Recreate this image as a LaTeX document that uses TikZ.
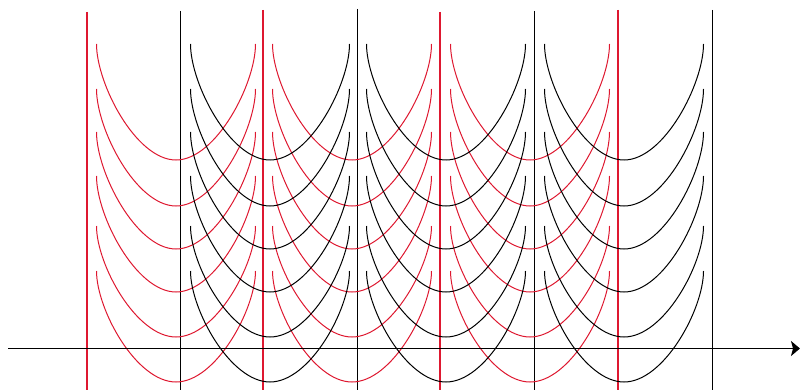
\documentclass[tikz,border=0pt]{standalone}
\usetikzlibrary{arrows.meta}
\definecolor{wred}{RGB}{222,24,48}
\tikzset{
  redline/.style={draw=wred, line width=1pt},
  blackline/.style={draw=black, line width=1pt},
  redpost/.style={draw=wred, line width=1.1pt},
  blackpost/.style={draw=black, line width=1pt},
  axisline/.style={draw=black, line width=1.6pt, -{Stealth[length=9pt,width=15pt,inset=2pt]}}
}
% \wellcurve{style}{cx}{top}{min}
\newcommand{\wellcurve}[4]{%
  \pgfmathsetmacro{\wa}{#3+0.344*(#4-#3)}%
  \draw[#1] (#2-79.5,#3) .. controls (#2-79.5,\wa) and (#2-40,#4) .. (#2,#4)
            .. controls (#2+40,#4) and (#2+79.5,\wa) .. (#2+79.5,#3);%
}
\begin{document}
\begin{tikzpicture}[x=1pt,y=-1pt]
\useasboundingbox (0,0) rectangle (800,390);
% vertical lines
\foreach \x/\t in {87/12,263/10,440/12,618/10} {
  \draw[redpost] (\x,\t) -- (\x,390);
}
\foreach \x/\t in {180/11,357/9,534/11,712/10} {
  \draw[blackpost] (\x,\t) -- (\x,390);
}
% wells
\foreach \cx in {176,352,530} {
  \foreach \top/\m in {44/160,89/206,132/249,176/292,226/337,271/382} {
    \wellcurve{redline}{\cx}{\top}{\m}
  }
}
\foreach \cx in {270,446,624} {
  \foreach \top/\m in {44/160,89/206,132/249,176/292,226/337,271/382} {
    \wellcurve{blackline}{\cx}{\top}{\m}
  }
}
% axis
\coordinate (axL) at (8,348.5);
\coordinate (axR) at (800,348.5);
\draw[axisline] (axL) -- (axR);
\end{tikzpicture}
\end{document}
